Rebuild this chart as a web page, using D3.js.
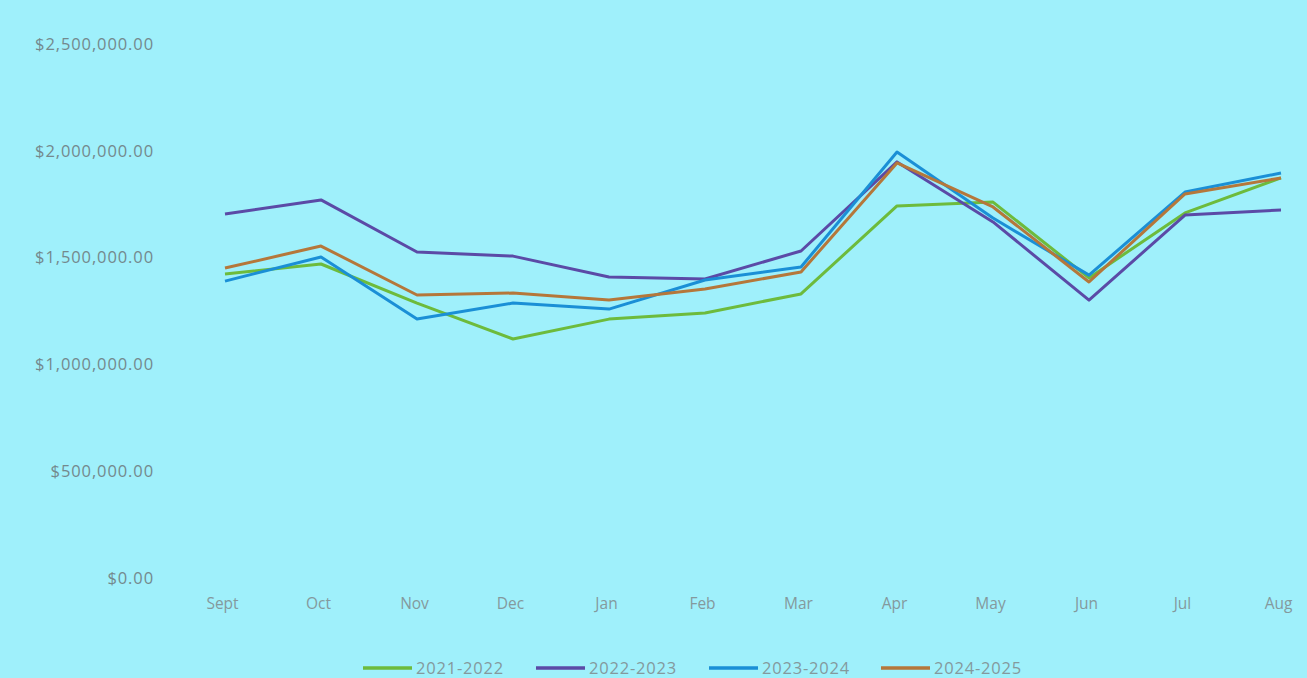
<!DOCTYPE html>
<html>
<head>
<meta charset="utf-8">
<script src="https://cdn.jsdelivr.net/npm/d3@7"></script>
<style>
  html, body { margin: 0; padding: 0; background: #9ff0fb; }
  svg { display: block; }
  text { font-family: "Open Sans", "Lato", sans-serif; }
</style>
</head>
<body>
<svg id="chart" width="1307" height="678"></svg>
<script>
// Monthly totals by school year
const months = ["Sept", "Oct", "Nov", "Dec", "Jan", "Feb", "Mar", "Apr", "May", "Jun", "Jul", "Aug"];
const seriesNames = ["2021-2022", "2022-2023", "2023-2024", "2024-2025"];
const sy2021 = [1423000, 1470000, 1287000, 1119000, 1212000, 1241000, 1330000, 1742000, 1760000, 1405000, 1709000, 1873000];
const sy2022 = [1704000, 1770000, 1526000, 1507000, 1409000, 1400000, 1531000, 1948000, 1667000, 1301000, 1699000, 1723000];
const sy2023 = [1390000, 1503000, 1213000, 1287000, 1259000, 1395000, 1456000, 1994000, 1685000, 1418000, 1807000, 1896000];
const sy2024 = [1451000, 1554000, 1325000, 1334000, 1301000, 1353000, 1433000, 1943000, 1737000, 1386000, 1798000, 1873000];
const yTicks = [0, 500000, 1000000, 1500000, 2000000, 2500000];
const colors = ["#6dbb3c", "#5b4aa6", "#1a8fd6", "#b5773a"];

const allSeries = [sy2021, sy2022, sy2023, sy2024];

const svg = d3.select("#chart");
const margin = { left: 225, right: 26, top: 44, bottom: 100 };
const W = 1307, H = 678;

const x = d3.scalePoint().domain(months).range([margin.left, W - margin.right]);
const y = d3.scaleLinear().domain([0, 2500000]).range([H - margin.bottom, margin.top]);

const money = d3.format("$,.2f");

// Y axis labels (no axis line or gridlines)
const yAxis = d3.axisLeft(y).tickValues(yTicks).tickFormat(money).tickSize(0).tickPadding(0);
const gy = svg.append("g").attr("transform", "translate(154,0)").call(yAxis);
gy.select(".domain").remove();
gy.selectAll("text").attr("fill", "#74898d").attr("font-size", 16.5)
  .attr("letter-spacing", 0.9);

// X axis labels
const xAxis = d3.axisBottom(x).tickSize(0).tickPadding(0);
const gx = svg.append("g").attr("transform", "translate(-3,598)").call(xAxis);
gx.select(".domain").remove();
gx.selectAll("text").attr("fill", "#84999d").attr("font-size", 15.5);

// Lines
const line = d3.line().x((d, i) => x(months[i])).y(d => y(d));
allSeries.forEach((vals, k) => {
  svg.append("path")
    .datum(vals)
    .attr("fill", "none")
    .attr("stroke", colors[k])
    .attr("stroke-width", 3)
    .attr("stroke-linejoin", "round")
    .attr("d", line);
});

// Legend
const legendX = [363, 536, 709, 881];
const lg = svg.append("g");
seriesNames.forEach((name, k) => {
  const g = lg.append("g").attr("transform", `translate(${legendX[k]},668)`);
  g.append("line").attr("x1", 0).attr("x2", 49).attr("y1", 0).attr("y2", 0)
    .attr("stroke", colors[k]).attr("stroke-width", 3.5);
  g.append("text").attr("x", 53).attr("y", 0).attr("dy", "0.35em")
    .attr("fill", "#84999d").attr("font-size", 16.5).attr("letter-spacing", 0.8)
    .text(name);
});
</script>
</body>
</html>
